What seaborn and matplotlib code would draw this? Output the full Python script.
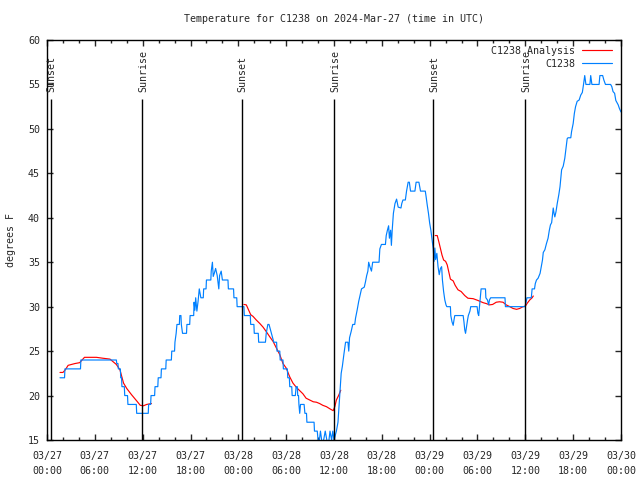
"""Temperature for C1238, 2024-03-27 .. 03-30, with the analysis curve and sun events."""

import matplotlib
matplotlib.use("Agg")
import matplotlib.pyplot as plt
import pandas as pd
import seaborn as sns
from matplotlib.ticker import MultipleLocator

# hours since 2024-03-27 00:00 UTC and observed temperature (deg F)
obs_hours = [1.63, 2.2, 2.25, 4.2, 4.25, 8.7, 8.75, 8.9, 8.95, 9.2, 9.25, 9.35, 9.4, 9.7, 9.75, 10.1,
             10.15, 11.2, 11.25, 12.7, 12.75, 13.0, 13.05, 13.5, 13.55, 13.9, 13.95, 14.3, 14.35, 14.9,
             14.95, 15.6, 15.65, 16.0, 16.05, 16.2, 16.3, 16.6, 16.65, 16.8, 16.85, 17.0, 17.5, 17.55,
             17.9, 17.95, 18.4, 18.45, 18.55, 18.65, 18.8, 18.95, 19.1, 19.3, 19.6, 19.65, 19.95, 20.0,
             20.55, 20.6, 20.75, 20.85, 21.0, 21.15, 21.35, 21.55, 21.65, 21.85, 22.0, 22.7, 22.75, 23.4,
             23.45, 23.8, 23.85, 24.7, 24.75, 25.5, 25.55, 25.95, 26.0, 26.5, 26.55, 27.4, 27.5, 27.7,
             27.85, 28.0, 28.2, 28.45, 28.8, 28.85, 29.2, 29.25, 29.6, 29.65, 30.15, 30.2, 30.4, 30.45,
             30.7, 30.75, 31.15, 31.25, 31.4, 31.45, 31.55, 31.6, 31.7, 31.8, 32.25, 32.35, 32.55, 32.6,
             33.5, 33.55, 33.9, 34.0, 34.1, 34.3, 34.45, 34.6, 34.9, 35.1, 35.3, 35.5, 35.7, 35.85, 36.0,
             36.3, 36.5, 36.65, 36.8, 36.9, 37.05, 37.25, 37.45, 37.75, 37.85, 37.95, 38.15, 38.35, 38.6,
             38.7, 38.9, 39.1, 39.25, 39.45, 39.8, 39.95, 40.1, 40.25, 40.35, 40.5, 40.7, 40.85, 41.65,
             41.75, 41.95, 42.45, 42.55, 42.7, 42.85, 42.95, 43.1, 43.2, 43.3, 43.45, 43.65, 43.85, 44.05,
             44.4, 44.5, 44.65, 44.95, 45.1, 45.3, 45.45, 45.6, 46.15, 46.3, 46.65, 46.85, 47.45, 47.55,
             47.7, 47.85, 48.0, 48.15, 48.3, 48.45, 48.55, 48.65, 48.75, 48.9, 49.05, 49.2, 49.35, 49.5,
             49.6, 49.75, 49.9, 50.05, 50.15, 50.6, 50.65, 50.8, 50.95, 51.05, 51.15, 52.2, 52.3, 52.4,
             52.5, 52.65, 52.75, 52.85, 53.05, 53.15, 53.95, 54.05, 54.15, 54.25, 54.35, 54.45, 55.0,
             55.05, 55.25, 55.4, 55.5, 55.65, 57.45, 57.5, 59.95, 60.1, 60.2, 60.75, 60.85, 61.15, 61.25,
             61.4, 61.6, 61.85, 62.0, 62.15, 62.25, 62.45, 62.65, 62.85, 63.0, 63.15, 63.3, 63.4, 63.5,
             63.6, 63.7, 63.85, 64.0, 64.2, 64.35, 64.45, 64.55, 64.75, 64.95, 65.1, 65.25, 65.35, 65.7,
             65.8, 66.0, 66.15, 66.3, 66.5, 66.75, 66.95, 67.15, 67.3, 67.45, 67.6, 68.1, 68.2, 68.35,
             69.25, 69.35, 69.7, 69.85, 70.05, 70.7, 70.85, 71.0, 71.2, 71.35, 71.5, 71.65, 71.8, 72.0]
obs_temps = [22, 22, 23, 23, 24, 24, 23.6, 23.6, 23, 23, 22, 22, 21, 21, 20, 20,
             19, 19, 18, 18, 19, 19, 20, 20, 21, 21, 22, 22, 23, 23,
             24, 24, 25, 25, 26, 27, 28, 28, 29, 29, 28, 27, 27, 28,
             28, 29, 29, 30.5, 29.6, 31, 29.5, 30.6, 32, 31, 31, 32, 32, 33,
             33, 34, 35, 33.4, 33.8, 34.3, 33.5, 32, 33.5, 34, 33, 33, 32, 32,
             31, 31, 30, 30, 29, 29, 28, 28, 27, 27, 26, 26, 27, 28,
             28, 27.5, 26.8, 26, 26, 25, 25, 24, 24, 23, 23, 22, 22, 21,
             21, 20, 20, 21, 21, 20, 20, 19, 18, 19, 19, 18, 18, 17,
             17, 16, 16, 15, 14.5, 16, 15, 14.5, 16, 15, 14.5, 16, 15, 16, 15,
             16, 17, 19, 21, 22.5, 23.3, 24.7, 26, 26, 25, 26.5, 27.2, 28, 28,
             28.7, 29.6, 30.6, 31.2, 32, 32.2, 32.8, 33.5, 34, 35, 34.5, 34, 35, 35,
             36.5, 37, 37, 38, 38.6, 39.1, 37.7, 38.6, 36.9, 38.6, 40.5, 41.6, 42.1, 41.2,
             41.1, 41.6, 42, 42, 43, 44, 44, 43, 43, 44, 44, 43, 43, 42.4,
             41.4, 40.5, 39.4, 38.6, 37.5, 36.5, 35.1, 36.6, 35.3, 36, 34.5, 33.6, 34.3, 34.5,
             33, 31.7, 30.75, 30.2, 30, 30, 29, 28.3, 27.9, 28.5, 29, 29, 28.3, 27.4,
             27, 27.9, 28.5, 29, 29.5, 30, 30, 29.25, 29, 30, 31, 32, 32,
             31, 30.75, 30.2, 30.75, 31, 31, 30, 30, 30.5, 31, 31, 32, 32, 32.6,
             33, 33.2, 33.75, 34.5, 35.25, 36.1, 36.4, 37.1, 37.7, 38.55, 39.2, 39.45, 40.3, 41.1,
             40.5, 40.1, 40.7, 41.6, 42.6, 43.5, 44.45, 45.4, 45.8, 46.7, 47.8, 48.9, 49, 49,
             49.7, 50.6, 51.75, 52.5, 53.1, 53.25, 53.8, 54.1, 55, 56, 55, 55, 56, 55,
             55, 56, 56, 55.5, 55, 55, 54.75, 54.2, 54, 53.2, 52.95, 52.7, 52.3, 51.9]

# analysis curve, three separate 12 h runs
ana1_hours = [1.63, 2.0, 2.3, 2.65, 3.5, 4.1, 4.7, 6.2, 7.0, 7.9, 8.3, 8.7, 9.15, 9.6, 10.0,
              10.6, 11.25, 11.7, 12.1, 12.5, 13.1]
ana1_temps = [22.6, 22.6, 22.9, 23.4, 23.6, 23.7, 24.3, 24.3, 24.2, 24.1, 23.8, 23.5, 22.9, 21.4,
              20.8, 20.1, 19.4, 18.9, 18.85, 19.0, 19.1]
ana2_hours = [24.7, 25.0, 25.2, 25.55, 25.85, 26.25, 26.7, 27.1, 27.5, 27.95, 28.35, 28.8, 29.2,
              29.6, 30.0, 30.45, 30.85, 31.3, 31.7, 32.1, 32.5, 32.95, 33.4, 33.8, 34.2, 34.6,
              35.05, 35.5, 35.9, 36.1, 36.3, 36.6, 36.85]
ana2_temps = [30.25, 30.2, 29.8, 29.1, 28.9, 28.5, 28.1, 27.7, 27.2, 26.6, 26.1, 25.3, 24.6,
              23.6, 23.1, 22.1, 21.4, 20.9, 20.55, 20.2, 19.7, 19.5, 19.3, 19.25, 19.1, 18.9,
              18.75, 18.5, 18.3, 18.75, 19.5, 20.05, 20.6]
ana3_hours = [48.7, 48.95, 49.15, 49.35, 49.55, 49.75, 50.0, 50.2, 50.4, 50.6, 50.95, 51.2, 51.55,
              51.95, 52.4, 52.8, 53.45, 54.05, 54.7, 55.1, 55.5, 55.9, 56.35, 56.75, 57.2, 57.6,
              58.05, 58.45, 58.9, 59.3, 59.7, 60.0, 60.25, 60.55, 60.85, 61.0]
ana3_temps = [38, 38, 37.3, 36.55, 35.8, 35.25, 35.1, 34.7, 33.9, 33.1, 32.9, 32.4, 31.9,
              31.7, 31.25, 30.95, 30.9, 30.7, 30.45, 30.35, 30.2, 30.25, 30.5, 30.55, 30.5, 30.2,
              30.0, 29.8, 29.7, 29.8, 30.0, 30.05, 30.4, 30.75, 31.0, 31.2]

sun_hours = [0.46, 11.96, 24.4, 36.05, 48.47, 60.0]
sun_labels = ["Sunset", "Sunrise", "Sunset", "Sunrise", "Sunset", "Sunrise"]

tick_hours = [0, 6, 12, 18, 24, 30, 36, 42, 48, 54, 60, 66, 72]
tick_labels = ["03/27\n00:00", "03/27\n06:00", "03/27\n12:00", "03/27\n18:00",
               "03/28\n00:00", "03/28\n06:00", "03/28\n12:00", "03/28\n18:00",
               "03/29\n00:00", "03/29\n06:00", "03/29\n12:00", "03/29\n18:00", "03/30\n00:00"]

RED, BLUE = "#ff0000", "#0080ff"
FS = 7.2


def main():
    sns.set_theme(style="ticks")
    plt.rcParams["font.family"] = ["DejaVu Sans Mono"]
    plt.rcParams["font.size"] = FS

    frames = [pd.DataFrame({"hours": obs_hours, "temp": obs_temps, "series": "C1238", "seg": 0})]
    for i, (h, t) in enumerate([(ana1_hours, ana1_temps), (ana2_hours, ana2_temps),
                                (ana3_hours, ana3_temps)], start=1):
        frames.append(pd.DataFrame({"hours": h, "temp": t, "series": "C1238 Analysis", "seg": i}))
    df = pd.concat(frames, ignore_index=True)

    fig = plt.figure(figsize=(6.4, 4.8), dpi=100)
    ax = fig.add_axes([47 / 640, 40 / 480, 574 / 640, 400 / 480])

    sns.lineplot(data=df, x="hours", y="temp", hue="series", units="seg", estimator=None,
                 sort=False, hue_order=["C1238 Analysis", "C1238"],
                 palette={"C1238 Analysis": RED, "C1238": BLUE}, lw=0.85, ax=ax)

    for h, lab in zip(sun_hours, sun_labels):
        ax.vlines(h, 15, 53.4, color="black", lw=1.0)
        ax.text(h + 0.1, 54.1, lab, rotation=90, ha="center", va="bottom", fontsize=FS)

    ax.set_xlim(0, 72); ax.set_ylim(15, 60)
    ax.set_xticks(tick_hours, tick_labels)
    ax.xaxis.set_minor_locator(MultipleLocator(2))
    ax.yaxis.set_major_locator(MultipleLocator(5))
    ax.yaxis.set_minor_locator(MultipleLocator(5))
    for t in ax.get_xticklabels():
        t.set_linespacing(1.6)
    ax.tick_params(which="both", direction="in", top=True, right=True, width=1.0, labelsize=FS)
    ax.tick_params(which="major", length=4.5)
    ax.tick_params(which="minor", length=2.5)
    ax.tick_params(axis="x", pad=8); ax.tick_params(axis="y", pad=5)
    for s in ax.spines.values():
        s.set_visible(True); s.set_linewidth(1.0); s.set_color("black")

    ax.set_xlabel("")
    ax.set_ylabel("degrees F", fontsize=FS)
    ax.yaxis.set_label_coords(-0.054, 0.5)
    # title sits centred over the plot area, not the whole figure
    fig.text(334 / 640, 0.97, "Temperature for C1238 on 2024-Mar-27 (time in UTC)",
             ha="center", va="top", fontsize=FS)

    ax.legend(loc="upper right", frameon=False, markerfirst=False, fontsize=FS,
              handlelength=3.0, handletextpad=0.7, labelspacing=0.3,
              borderaxespad=0.3, bbox_to_anchor=(0.997, 1.003))

    fig.savefig("out.png", dpi=100)
    plt.close(fig)


if __name__ == "__main__":
    main()
